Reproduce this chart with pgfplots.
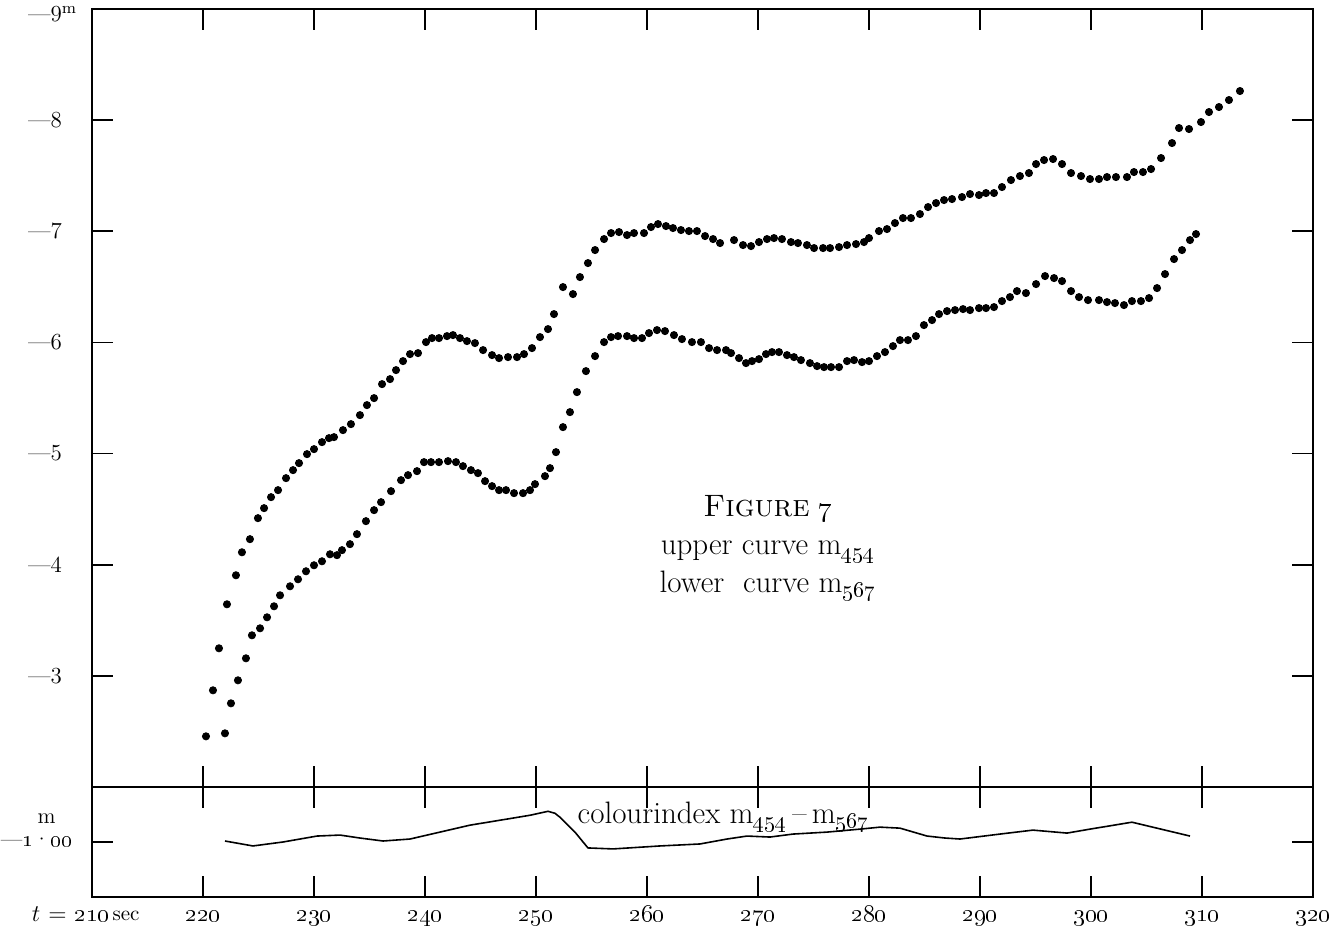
\documentclass[border=0pt]{standalone}
\usepackage{pgfplots}
\pgfplotsset{compat=1.18}
\newcommand\yl{\fontsize{11.5}{14}\selectfont}
\newcommand\xl{\fontsize{12}{14}\selectfont}
\newcommand\xt[1]{\mbox{\xl\oldstylenums{#1}}}
\newcommand\yt[1]{\mbox{\yl---#1}}
\begin{document}
\begin{tikzpicture}
\pgfplotsset{
  every axis/.append style={
    scale only axis, width=610.5pt,
    xmin=210, xmax=320,
    axis line style={line width=0.9pt},
    major tick length=10.5pt,
    tick style={line width=0.9pt, black},
    tick align=inside,
    y dir=reverse,
  }
}
% main panel
\begin{axis}[
  at={(0,55pt)}, anchor=south west,
  height=389pt,
  ymin=-9, ymax=-2,
  xtick={210,220,...,320}, xticklabels={},
  ytick={-9,-8,-7,-6,-5,-4,-3},
  yticklabels={\mbox{\yl\rule{0pt}{13pt}---9\rlap{\textsuperscript{m}}},\yt{8},\yt{7},\yt{6},\yt{5},\yt{4},\yt{3}},
  yticklabel style={xshift=-11.5pt},
]
\addplot[only marks, mark=*, mark size=1.8pt, black] table {
220.27 -2.456
220.90 -2.870
221.44 -3.248
222.16 -3.644
222.97 -3.905
223.51 -4.112
224.23 -4.230
224.95 -4.419
225.50 -4.509
226.13 -4.608
226.76 -4.671
227.48 -4.779
228.11 -4.851
228.65 -4.914
229.37 -4.995
230.00 -5.040
230.72 -5.103
231.35 -5.139
231.80 -5.148
232.61 -5.211
233.33 -5.265
234.14 -5.346
234.77 -5.436
235.41 -5.499
236.13 -5.625
236.85 -5.670
237.39 -5.751
238.02 -5.832
238.65 -5.895
239.37 -5.904
240.09 -6.003
240.63 -6.039
241.26 -6.039
241.98 -6.057
242.52 -6.066
243.15 -6.039
243.78 -6.012
244.50 -5.994
245.23 -5.931
246.04 -5.886
246.67 -5.859
247.48 -5.868
248.29 -5.868
248.92 -5.895
249.64 -5.949
250.36 -6.048
251.08 -6.120
251.62 -6.255
252.43 -6.498
253.33 -6.435
253.96 -6.588
254.68 -6.714
255.32 -6.831
256.13 -6.930
256.76 -6.984
257.48 -6.993
258.20 -6.966
258.83 -6.984
259.73 -6.984
260.36 -7.038
260.99 -7.065
261.71 -7.047
262.34 -7.029
263.06 -7.011
263.78 -7.002
264.50 -7.002
265.23 -6.957
265.95 -6.930
266.58 -6.894
267.84 -6.921
268.65 -6.876
269.37 -6.867
270.09 -6.903
270.81 -6.930
271.44 -6.939
272.16 -6.930
272.97 -6.903
273.60 -6.894
274.41 -6.876
275.05 -6.849
275.86 -6.849
276.49 -6.849
277.30 -6.858
278.02 -6.876
278.83 -6.885
279.55 -6.903
280.00 -6.939
280.90 -7.002
281.62 -7.020
282.34 -7.074
283.06 -7.119
283.78 -7.119
284.59 -7.155
285.32 -7.218
286.04 -7.254
286.76 -7.281
287.48 -7.290
288.38 -7.308
289.10 -7.335
289.91 -7.326
290.54 -7.344
291.26 -7.344
291.98 -7.398
292.79 -7.461
293.60 -7.497
294.41 -7.524
295.05 -7.605
295.77 -7.641
296.58 -7.650
297.39 -7.605
298.20 -7.524
299.10 -7.497
299.91 -7.470
300.72 -7.470
301.44 -7.488
302.25 -7.488
303.24 -7.488
303.87 -7.533
304.68 -7.533
305.41 -7.560
306.31 -7.659
307.30 -7.794
307.93 -7.929
308.83 -7.920
309.91 -7.983
310.63 -8.073
311.53 -8.118
312.43 -8.181
313.42 -8.262
};
\addplot[only marks, mark=*, mark size=1.8pt, black] table {
221.98 -2.483
222.52 -2.753
223.15 -2.960
223.87 -3.158
224.41 -3.365
225.14 -3.428
225.77 -3.527
226.40 -3.626
226.94 -3.725
227.84 -3.806
228.56 -3.869
229.28 -3.941
230.00 -3.995
230.72 -4.031
231.44 -4.094
232.07 -4.086
232.52 -4.131
233.24 -4.185
233.87 -4.275
234.68 -4.392
235.41 -4.491
236.04 -4.563
236.94 -4.662
237.84 -4.761
238.47 -4.806
239.28 -4.842
239.91 -4.923
240.54 -4.923
241.26 -4.923
242.07 -4.932
242.79 -4.923
243.42 -4.887
244.14 -4.851
244.77 -4.824
245.41 -4.752
246.04 -4.707
246.67 -4.671
247.30 -4.671
248.02 -4.644
248.83 -4.644
249.46 -4.671
249.91 -4.725
250.81 -4.797
251.26 -4.869
251.80 -5.013
252.43 -5.238
253.06 -5.373
253.69 -5.553
254.50 -5.742
255.32 -5.877
256.13 -6.003
256.76 -6.048
257.39 -6.057
258.20 -6.057
258.83 -6.039
259.55 -6.039
260.18 -6.084
260.90 -6.111
261.62 -6.102
262.43 -6.066
263.15 -6.030
264.05 -6.003
264.86 -6.003
265.59 -5.949
266.31 -5.931
267.12 -5.931
267.57 -5.904
268.29 -5.859
268.92 -5.814
269.46 -5.832
270.09 -5.850
270.72 -5.895
271.26 -5.913
271.89 -5.913
272.61 -5.886
273.24 -5.868
273.87 -5.841
274.68 -5.814
275.32 -5.787
275.95 -5.778
276.58 -5.778
277.30 -5.778
278.02 -5.832
278.65 -5.841
279.37 -5.823
280.00 -5.832
280.72 -5.877
281.44 -5.913
282.16 -5.967
282.79 -6.021
283.51 -6.021
284.23 -6.057
284.95 -6.156
285.68 -6.201
286.31 -6.255
287.03 -6.282
287.75 -6.291
288.47 -6.300
289.10 -6.291
289.91 -6.309
290.54 -6.309
291.26 -6.318
291.98 -6.372
292.70 -6.408
293.33 -6.462
294.14 -6.444
295.05 -6.525
295.86 -6.597
296.67 -6.579
297.39 -6.552
298.20 -6.462
298.92 -6.408
299.73 -6.381
300.72 -6.381
301.44 -6.363
302.16 -6.354
302.97 -6.336
303.69 -6.372
304.50 -6.372
305.23 -6.399
305.95 -6.489
306.67 -6.615
307.48 -6.750
308.20 -6.831
308.92 -6.921
309.46 -6.975
};
\node[align=center, font=\fontsize{15.5}{19}\selectfont] at (axis cs:270.9,-4.15)
  {\textsc{Figure} \oldstylenums{7}\\
   upper curve m\textsubscript{\oldstylenums{454}}\\
   lower\ \ curve m\textsubscript{\oldstylenums{567}}};
\end{axis}
% colour index panel
\begin{axis}[
  at={(0,0)}, anchor=south west,
  height=55pt,
  ymin=-1.5, ymax=-0.5,
  xtick={210,220,...,320},
  xticklabels={\mbox{\xl\llap{$t$ = }\oldstylenums{210}\rlap{\kern1.5pt\raisebox{0.15ex}{\fontsize{10.5}{12}\selectfont sec}}},
    \xt{220},\xt{230},\xt{240},\xt{250},\xt{260},\xt{270},\xt{280},\xt{290},\xt{300},\xt{310},\xt{320}},
  xticklabel style={anchor=base, yshift=-12.5pt},
  ytick={-1},
  yticklabels={\mbox{\fontsize{11}{13}\selectfont---\oldstylenums{1}\textperiodcentered\oldstylenums{00}}},
  yticklabel style={xshift=-6.5pt},
  clip=false,
]
\addplot[black, line width=0.8pt] table {
221.98 -1.009
224.50 -0.964
227.21 -1.000
230.27 -1.054
232.34 -1.063
234.14 -1.036
236.22 -1.009
238.65 -1.027
241.35 -1.090
244.05 -1.153
246.76 -1.198
249.46 -1.243
251.08 -1.279
251.71 -1.261
252.16 -1.225
253.51 -1.090
254.68 -0.946
256.94 -0.937
261.17 -0.964
264.77 -0.982
267.21 -1.027
269.01 -1.054
271.08 -1.045
273.15 -1.072
276.22 -1.090
279.19 -1.117
280.99 -1.135
282.79 -1.126
285.23 -1.054
286.85 -1.036
288.20 -1.027
291.80 -1.072
294.77 -1.108
297.84 -1.081
299.91 -1.117
303.69 -1.180
308.92 -1.054
};
\node[font=\fontsize{15.5}{17}\selectfont] at (axis cs:266.9,-1.23)
  {colourindex m\textsubscript{\oldstylenums{454}}\,--\,m\textsubscript{\oldstylenums{567}}};
\node[font=\fontsize{11}{13}\selectfont, inner sep=0pt] at (axis cs:205.9,-1.21) {m};
\end{axis}
% fix the picture's extent to the reference proportions
\pgfresetboundingbox
\path (-46pt,-17.5pt) rectangle (624.5pt,448.5pt);
\end{tikzpicture}
\end{document}
